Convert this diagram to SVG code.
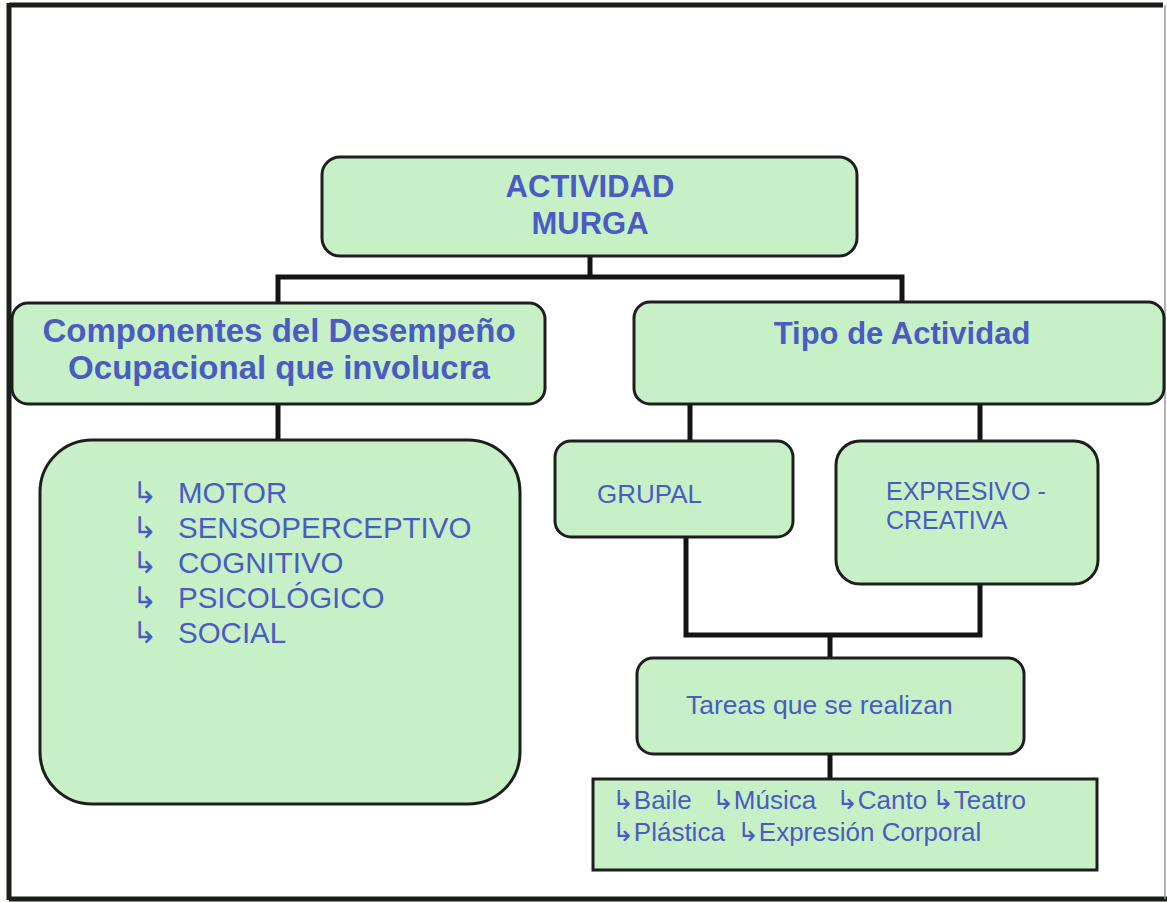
<svg xmlns="http://www.w3.org/2000/svg" width="1167" height="902" viewBox="0 0 1167 902">
<style>
.box{fill:#c8f0c6;stroke:#1e1e1e;stroke-width:3}
.ln{stroke:#141414;stroke-width:5;fill:none;stroke-linecap:square}
.tb{font-family:"Liberation Sans",Arial,sans-serif;font-weight:bold;font-size:31px;fill:#4a5cc4;text-anchor:middle}
.tr{font-family:"Liberation Sans",Arial,sans-serif;font-size:24px;fill:#4a5cc4}
.bl{font-family:"DejaVu Sans",sans-serif}
</style>
<rect width="1167" height="902" fill="#ffffff"/>
<g id="frame">
<line x1="9" y1="5" x2="1163" y2="5" stroke="#1a1f1a" stroke-width="5"/>
<line x1="9" y1="3" x2="9" y2="900" stroke="#1a1f1a" stroke-width="5"/>
<line x1="9" y1="899" x2="1167" y2="899" stroke="#1a1f1a" stroke-width="5"/>
<line x1="1165" y1="5" x2="1165" y2="899" stroke="#9a9a9a" stroke-width="1.5"/>
</g>
<g id="connectors">
<path class="ln" d="M590 256 V277 M278 277 H902 M278 277 V303 M902 277 V302"/>
<path class="ln" d="M278 404 V440"/>
<path class="ln" d="M690 404 V441 M980 404 V441"/>
<path class="ln" d="M686 537 V635 H980 V584 M830 635 V658"/>
<path class="ln" d="M830 754 V779"/>
</g>
<g id="actividad">
<rect class="box" x="322" y="157" width="535" height="99" rx="18"/>
<text class="tb" x="590" y="197">ACTIVIDAD</text>
<text class="tb" x="590" y="234">MURGA</text>
</g>
<g id="componentes">
<rect class="box" x="12" y="303" width="533" height="101" rx="16"/>
<text class="tb" x="279" y="342" style="font-size:33px">Componentes del Desempeño</text>
<text class="tb" x="279" y="379" style="font-size:33px">Ocupacional que involucra</text>
</g>
<g id="tipo">
<rect class="box" x="634" y="302" width="530" height="102" rx="16"/>
<text class="tb" x="902" y="344">Tipo de Actividad</text>
</g>
<g id="lista">
<rect class="box" x="40" y="440" width="480" height="364" rx="52"/>
<g class="tr" style="font-size:29.5px">
<text x="132" y="503"><tspan class="bl" font-size="30">↳</tspan><tspan x="178">MOTOR</tspan></text>
<text x="132" y="538"><tspan class="bl" font-size="30">↳</tspan><tspan x="178">SENSOPERCEPTIVO</tspan></text>
<text x="132" y="573"><tspan class="bl" font-size="30">↳</tspan><tspan x="178">COGNITIVO</tspan></text>
<text x="132" y="608"><tspan class="bl" font-size="30">↳</tspan><tspan x="178">PSICOLÓGICO</tspan></text>
<text x="132" y="643"><tspan class="bl" font-size="30">↳</tspan><tspan x="178">SOCIAL</tspan></text>
</g>
</g>
<g id="grupal">
<rect class="box" x="555" y="441" width="238" height="96" rx="16"/>
<text class="tr" x="597" y="503" style="font-size:26px">GRUPAL</text>
</g>
<g id="expresivo">
<rect class="box" x="836" y="441" width="262" height="143" rx="24"/>
<text class="tr" x="886" y="500" style="font-size:25px">EXPRESIVO -</text>
<text class="tr" x="886" y="529" style="font-size:25px">CREATIVA</text>
</g>
<g id="tareas">
<rect class="box" x="637" y="658" width="387" height="96" rx="16"/>
<text class="tr" x="686" y="714" style="font-size:26.5px">Tareas que se realizan</text>
</g>
<g id="detalle">
<rect class="box" x="593" y="779" width="504" height="91"/>
<g class="tr" style="font-size:26px">
<text y="809"><tspan x="612" class="bl">↳</tspan><tspan>Baile</tspan><tspan x="712" class="bl">↳</tspan><tspan>Música</tspan><tspan x="836" class="bl">↳</tspan><tspan>Canto</tspan><tspan x="932" class="bl">↳</tspan><tspan>Teatro</tspan></text>
<text y="841"><tspan x="612" class="bl">↳</tspan><tspan>Plástica</tspan><tspan x="737" class="bl">↳</tspan><tspan>Expresión Corporal</tspan></text>
</g>
</g>
</svg>
